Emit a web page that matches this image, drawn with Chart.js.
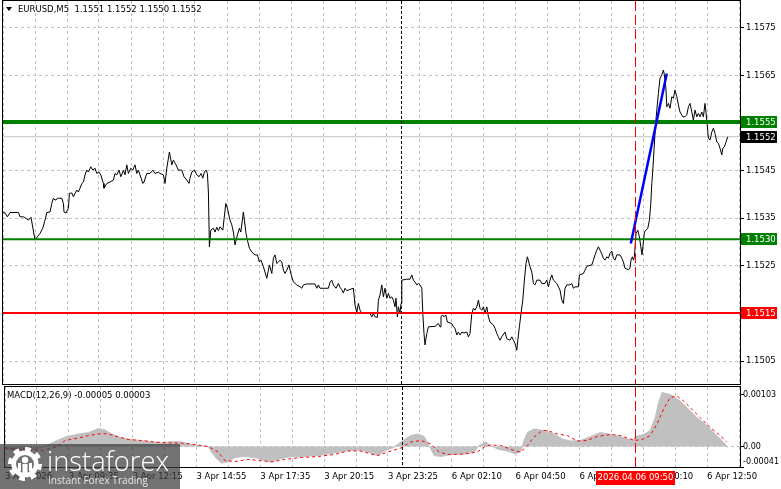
<!DOCTYPE html>
<html>
<head>
<meta charset="utf-8">
<script src="https://cdn.jsdelivr.net/npm/chart.js@4.4.0/dist/chart.umd.min.js"></script>
<style>
  html, body { margin: 0; padding: 0; background: #fff; }
  #wrap { position: relative; width: 781px; height: 489px; overflow: hidden; }
  #priceCanvas { position: absolute; left: 0; top: 0; }
  #macdCanvas { position: absolute; left: 0; top: 386px; }
</style>
</head>
<body>
<div id="wrap">
  <canvas id="priceCanvas" width="781" height="386"></canvas>
  <canvas id="macdCanvas" width="781" height="103"></canvas>
</div>
<script>
// EURUSD M5 close line, bar index (5 min bars from the left edge) and price
const priceBars = [
  0, 1, 2.2, 3.5, 7.7, 8.5, 10.2, 11, 12.7, 14,
  16, 17.2, 18.5, 19.9, 21, 21.9, 23.5, 24.4, 25.2, 26,
  27.7, 29.4, 30.2, 30.5, 31.5, 32.7, 33.2, 34.4, 35.2, 36,
  36.9, 37.7, 38.5, 39.4, 40.2, 41, 41.9, 42.7, 43.9, 44.9,
  46, 46.9, 48, 48.9, 50.2, 50.5, 51.9, 53.5, 55.2, 56,
  56.9, 58, 58.9, 60.2, 61, 61.9, 62.7, 63.9, 64.9, 66,
  66.9, 67.7, 68.5, 69.9, 70.5, 71.9, 73.5, 74.9, 76, 77.7,
  78.5, 80.2, 81, 81.9, 83.2, 84.4, 85.2, 86.5, 87.7, 89.4,
  90.5, 91.9, 93, 93.5, 94.4, 95.7, 96.9, 98, 99, 99.9,
  100.7, 101.5, 102.2, 102.7, 103.2, 103.9, 105.2, 106, 106.9, 107.7,
  108.5, 109.9, 111.4, 112.2, 113.5, 114.4, 115.2, 116, 117.2, 118.2,
  118.9, 120.2, 120.7, 121.5, 122.2, 123.2, 124.4, 126, 127.2, 128.2,
  129, 130.2, 131.9, 132.7, 133.2, 134.4, 135.2, 136, 136.9, 137.7,
  138.5, 139.4, 140.2, 141, 141.9, 143, 143.9, 145.2, 146.9, 148.5,
  149.4, 150.2, 151.9, 156, 156.9, 157.7, 158.5, 162.7, 163.5, 164.4,
  165.2, 166.5, 167.7, 168.5, 169.4, 170.2, 171, 171.9, 173.2, 175.2,
  176, 176.9, 177.7, 178.5, 179.4, 181, 183.5, 184.4, 185.2, 186,
  187.2, 187.7, 188.5, 189.4, 190.2, 191, 191.9, 192.7, 193.5, 194.4,
  195.2, 196, 196.5, 197.2, 197.7, 198.5, 199, 199.4, 201.9, 203.5,
  204.4, 205.2, 206, 206.9, 207.7, 208.5, 209.4, 209.9, 210.5, 211,
  211.9, 212.7, 216, 217.7, 218.5, 219, 219.7, 220.5, 221.4, 222.2,
  224.4, 225.2, 226, 226.9, 227.7, 228.5, 229.4, 230.5, 231.9, 232.7,
  233.5, 234.4, 235.2, 236, 236.9, 237.7, 238.5, 239.4, 240.2, 241,
  241.9, 242.7, 243.5, 245.2, 246, 246.9, 247.7, 248.5, 249.4, 251,
  251.9, 253.5, 254.4, 255.2, 256, 256.9, 257.4, 258.2, 259, 259.9,
  260.7, 261.5, 262.2, 262.9, 263.5, 264.4, 265.2, 266, 266.9, 268.5,
  269.4, 271, 271.9, 272.7, 273.5, 274.4, 275.2, 276.9, 278.5, 279.4,
  280.2, 281, 281.9, 283.5, 284.4, 285.2, 286, 287.7, 288.2, 290.2,
  291, 291.9, 294.4, 295.2, 296, 296.9, 297.7, 298.5, 299.4, 300.2,
  301, 301.9, 302.7, 303.5, 304.4, 305.2, 306, 306.9, 308.5, 309.4,
  310.2, 311, 312.7, 313.5, 314, 314.7, 315.2, 315.7, 316.5, 317.4,
  318.2, 318.9, 319.5, 320.2, 320.7, 321.5, 322.4, 323.2, 323.9, 324.4,
  324.9, 325.5, 326.2, 326.9, 327.7, 328.5, 329.4, 330.2, 330.7, 331.4,
  331.9, 332.7, 333.5, 334.4, 335.2, 336, 336.9, 337.7, 338.5, 339.9,
  341, 341.9, 342.7, 343.5, 344.4, 345.2, 346, 346.9, 347.7, 348.5,
  349.4, 350.2, 351, 351.9, 352.7, 353.5, 354.4, 355.2, 356, 356.9,
  357.7, 358.5, 359.4, 359.9, 360.7, 361.5, 362.4
]
const priceClose = [
  1.15363, 1.15361, 1.15353, 1.15362, 1.15362, 1.15353, 1.15353, 1.15351, 1.15346, 1.15352,
  1.15304, 1.15311, 1.15318, 1.15329, 1.15346, 1.15362, 1.15363, 1.15381, 1.15392, 1.15388,
  1.15392, 1.15392, 1.15381, 1.15363, 1.15361, 1.15371, 1.15402, 1.15403, 1.15395, 1.15402,
  1.15409, 1.15405, 1.15413, 1.15423, 1.15426, 1.15441, 1.15451, 1.15447, 1.15458, 1.15451,
  1.15455, 1.15444, 1.15447, 1.15441, 1.15423, 1.15413, 1.15423, 1.15426, 1.15430, 1.15444,
  1.15441, 1.15451, 1.15437, 1.15451, 1.15441, 1.15462, 1.15444, 1.15455, 1.15451, 1.15462,
  1.15444, 1.15451, 1.15441, 1.15423, 1.15426, 1.15444, 1.15444, 1.15451, 1.15444, 1.15447,
  1.15444, 1.15441, 1.15423, 1.15455, 1.15489, 1.15462, 1.15472, 1.15462, 1.15451, 1.15451,
  1.15437, 1.15430, 1.15423, 1.15434, 1.15447, 1.15451, 1.15441, 1.15437, 1.15444, 1.15434,
  1.15447, 1.15451, 1.15444, 1.15405, 1.15290, 1.15325, 1.15329, 1.15321, 1.15331, 1.15324,
  1.15332, 1.15325, 1.15381, 1.15371, 1.15346, 1.15336, 1.15321, 1.15294, 1.15315, 1.15329,
  1.15321, 1.15363, 1.15346, 1.15318, 1.15304, 1.15287, 1.15279, 1.15273, 1.15273, 1.15258,
  1.15262, 1.15248, 1.15224, 1.15241, 1.15252, 1.15234, 1.15266, 1.15273, 1.15255, 1.15258,
  1.15262, 1.15258, 1.15241, 1.15234, 1.15241, 1.15252, 1.15234, 1.15216, 1.15210, 1.15206,
  1.15203, 1.15210, 1.15212, 1.15212, 1.15203, 1.15210, 1.15203, 1.15203, 1.15216, 1.15220,
  1.15210, 1.15203, 1.15213, 1.15205, 1.15200, 1.15193, 1.15203, 1.15198, 1.15200, 1.15203,
  1.15168, 1.15153, 1.15171, 1.15157, 1.15151, 1.15151, 1.15150, 1.15143, 1.15150, 1.15143,
  1.15142, 1.15178, 1.15189, 1.15210, 1.15185, 1.15203, 1.15182, 1.15192, 1.15182, 1.15185,
  1.15178, 1.15164, 1.15182, 1.15143, 1.15164, 1.15150, 1.15171, 1.15220, 1.15222, 1.15222,
  1.15231, 1.15220, 1.15216, 1.15210, 1.15213, 1.15210, 1.15203, 1.15150, 1.15108, 1.15084,
  1.15108, 1.15122, 1.15123, 1.15129, 1.15122, 1.15143, 1.15147, 1.15143, 1.15147, 1.15132,
  1.15129, 1.15122, 1.15119, 1.15105, 1.15111, 1.15105, 1.15111, 1.15109, 1.15111, 1.15101,
  1.15108, 1.15150, 1.15161, 1.15157, 1.15164, 1.15178, 1.15161, 1.15157, 1.15164, 1.15150,
  1.15164, 1.15143, 1.15132, 1.15126, 1.15119, 1.15108, 1.15101, 1.15094, 1.15101, 1.15111,
  1.15097, 1.15094, 1.15101, 1.15094, 1.15087, 1.15073, 1.15094, 1.15122, 1.15150, 1.15178,
  1.15220, 1.15255, 1.15269, 1.15258, 1.15248, 1.15237, 1.15213, 1.15210, 1.15220, 1.15220,
  1.15213, 1.15213, 1.15220, 1.15206, 1.15220, 1.15231, 1.15220, 1.15213, 1.15199, 1.15178,
  1.15171, 1.15203, 1.15210, 1.15210, 1.15213, 1.15203, 1.15206, 1.15206, 1.15231, 1.15234,
  1.15241, 1.15249, 1.15252, 1.15262, 1.15273, 1.15283, 1.15290, 1.15283, 1.15275, 1.15266,
  1.15262, 1.15269, 1.15266, 1.15276, 1.15281, 1.15266, 1.15262, 1.15273, 1.15273, 1.15266,
  1.15258, 1.15245, 1.15242, 1.15245, 1.15262, 1.15269, 1.15262, 1.15269, 1.15318, 1.15325,
  1.15311, 1.15290, 1.15273, 1.15300, 1.15321, 1.15325, 1.15329, 1.15346, 1.15381, 1.15423,
  1.15451, 1.15493, 1.15542, 1.15577, 1.15612, 1.15644, 1.15651, 1.15661, 1.15651, 1.15626,
  1.15584, 1.15591, 1.15581, 1.15605, 1.15602, 1.15619, 1.15605, 1.15588, 1.15573, 1.15563,
  1.15563, 1.15567, 1.15584, 1.15591, 1.15573, 1.15556, 1.15577, 1.15563, 1.15570, 1.15563,
  1.15573, 1.15563, 1.15591, 1.15556, 1.15518, 1.15514, 1.15531, 1.15539, 1.15528, 1.15510,
  1.15507, 1.15497, 1.15483, 1.15497, 1.15500, 1.15510, 1.15521
]

// MACD(12,26,9): histogram and signal
const macdBars = [
  0, 10, 19, 24.4, 30.2, 36.9, 41.9, 46.9, 50.2, 53.5,
  58.5, 65.2, 71.9, 78.5, 83.5, 88.5, 93.5, 98.5, 101.9, 103.5,
  106, 108.5, 111.9, 115.2, 120.2, 125.2, 130.2, 133.5, 136.9, 141.9,
  148.5, 156.9, 165.2, 171.9, 178.5, 183.5, 186.9, 190.2, 195.2, 198.5,
  203.5, 206.9, 210.2, 213.5, 215.2, 218.5, 223.5, 230.2, 235.2, 237.7,
  241, 243.5, 246.9, 251.9, 256, 258.5, 260.2, 261.9, 265.2, 270.2,
  275.2, 279.4, 283.5, 288.5, 293.5, 298.5, 303.5, 308.5, 311.9, 315.2,
  316, 320.2, 323.5, 326, 327.7, 329.4, 333.5, 338.5, 341.9, 346.9,
  351.9, 356.9, 360.2, 362.4
]
const macdHist = [
  -0.00006, -0.00009, -0.00002, 0.00009, 0.00019, 0.00025, 0.00028, 0.00036, 0.00033, 0.00025,
  0.00017, 0.00013, 0.00010, 0.00007, 0.00010, 0.00009, 0.00004, 0.00001, 0.00000, -0.00011,
  -0.00024, -0.00033, -0.00031, -0.00022, -0.00020, -0.00022, -0.00028, -0.00031, -0.00026, -0.00021,
  -0.00020, -0.00018, -0.00013, -0.00008, -0.00007, -0.00013, -0.00018, -0.00009, -0.00001, 0.00009,
  0.00022, 0.00025, 0.00020, -0.00005, -0.00018, -0.00020, -0.00016, -0.00015, -0.00011, 0.00002,
  0.00009, 0.00002, -0.00005, -0.00009, -0.00015, -0.00011, 0.00012, 0.00028, 0.00035, 0.00032,
  0.00025, 0.00015, 0.00011, 0.00012, 0.00020, 0.00028, 0.00024, 0.00020, 0.00015, 0.00013,
  0.00020, 0.00024, 0.00032, 0.00058, 0.00088, 0.00108, 0.00104, 0.00091, 0.00078, 0.00058,
  0.00042, 0.00022, 0.00009, -0.00002
]
const signalBars = [
  0, 18.5, 26, 30.2, 36.9, 41.9, 48.5, 51.9, 56.9, 61.9,
  68.5, 75.2, 81.9, 88.5, 95.2, 101.9, 106.9, 110.2, 115.2, 121.9,
  128.5, 133.5, 140.2, 148.5, 156.9, 165.2, 171.9, 178.5, 183.5, 186.9,
  191.9, 198.5, 203.5, 208.5, 213.5, 217.7, 221.9, 230.2, 236.9, 240.2,
  243.5, 248.5, 255.2, 258.5, 261.9, 265.2, 269.4, 271.9, 276.9, 281.9,
  286.9, 291.9, 296.9, 303.5, 308.5, 311.9, 316, 320.2, 323.5, 326.9,
  330.2, 333.5, 336.9, 340.2, 343.5, 348.5, 353.5, 357.7, 361.9
]
const signalValues = [
  -0.00003, -0.00008, -0.00001, 0.00012, 0.00017, 0.00022, 0.00026, 0.00025, 0.00019, 0.00014,
  0.00012, 0.00009, 0.00007, 0.00007, 0.00004, 0.00000, -0.00011, -0.00028, -0.00030, -0.00026,
  -0.00028, -0.00031, -0.00026, -0.00022, -0.00020, -0.00016, -0.00009, -0.00009, -0.00015, -0.00018,
  -0.00011, -0.00003, 0.00009, 0.00012, 0.00005, -0.00011, -0.00016, -0.00015, -0.00011, -0.00001,
  0.00003, 0.00002, -0.00008, -0.00011, 0.00002, 0.00019, 0.00032, 0.00032, 0.00025, 0.00022,
  0.00011, 0.00012, 0.00020, 0.00024, 0.00022, 0.00017, 0.00012, 0.00015, 0.00022, 0.00045,
  0.00075, 0.00098, 0.00101, 0.00091, 0.00078, 0.00058, 0.00038, 0.00025, 0.00009
]

// levels drawn by the analyst, and the trend stroke
const levelValues = [1.15552, 1.15306, 1.15151]
const levelLabels = ["1.1555", "1.1530", "1.1515"]
const trendBars = [313.9, 331.9]
const trendPrices = [1.15297, 1.15654]

// axes
const priceTicks = [1.1505, 1.1515, 1.1525, 1.1535, 1.1545, 1.1555, 1.1565, 1.1575]
const macdTicks = [0.00103, 0, -0.00041]
const macdTickLabels = ["0.00103", "0.00", "-0.00041"]
const tickBars = [0, 32, 64, 96, 128, 160, 192, 224, 256, 288, 320, 352]
const tickLabels = ["3 Apr 2026", "3 Apr 09:35", "3 Apr 12:15", "3 Apr 14:55", "3 Apr 17:35", "3 Apr 20:15",
  "3 Apr 23:25", "6 Apr 02:10", "6 Apr 04:50", "6 Apr 07:30", "6 Apr 10:10", "6 Apr 12:50"]
const separatorBar = 199
const eventBar = 316
const eventLabel = "2026.04.06 09:50"
const headerText = "EURUSD,M5  1.1551 1.1552 1.1550 1.1552"
const macdHeader = "MACD(12,26,9) -0.00005 0.00003"

const X_MAX = 368.5
const GRID = "#c0c0c0"
const FONT = "'DejaVu Sans', Verdana, sans-serif"
const FONT_PX = 8.5
Chart.defaults.font.family = FONT
Chart.defaults.font.size = FONT_PX
Chart.defaults.color = "#000"

const gridBars = []
for (let b = 0; b <= X_MAX; b += 16) gridBars.push(b)

const toPoints = (xs, ys) => xs.map((x, i) => ({ x: x, y: ys[i] }))
const lastClose = priceClose[priceClose.length - 1]

function xAxis(showLabels, height) {
  return {
    type: "linear",
    min: 0,
    max: X_MAX,
    border: { display: false, dash: [3, 3] },
    grid: { color: GRID, drawTicks: false },
    ticks: {
      display: showLabels,
      autoSkip: false,
      maxRotation: 0,
      align: "start",
      padding: 5,
      callback: (v) => {
        const i = tickBars.indexOf(v)
        return i >= 0 ? tickLabels[i] : ""
      },
    },
    afterBuildTicks: (s) => { s.ticks = gridBars.map((v) => ({ value: v })) },
    afterFit: (s) => { s.height = height },
  }
}

// vertical markers on both panels
const markers = {
  id: "markers",
  afterDatasetsDraw(chart) {
    const { ctx, chartArea: a, scales } = chart
    ctx.save()
    ctx.lineWidth = 1
    let px = Math.round(scales.x.getPixelForValue(separatorBar)) + 0.5
    ctx.strokeStyle = "#000"
    ctx.setLineDash([3, 2])
    ctx.beginPath(); ctx.moveTo(px, a.top); ctx.lineTo(px, a.bottom); ctx.stroke()
    px = Math.round(scales.x.getPixelForValue(eventBar)) + 0.5
    ctx.strokeStyle = "#ff0000"
    ctx.setLineDash([10, 4])
    ctx.beginPath(); ctx.moveTo(px, a.top); ctx.lineTo(px, a.bottom); ctx.stroke()
    ctx.restore()
  },
}

function frame(ctx, a) {
  ctx.save()
  ctx.strokeStyle = "#000"
  ctx.lineWidth = 1
  ctx.strokeRect(a.left - 0.5, a.top - 0.5, a.right - a.left + 1, a.bottom - a.top + 1)
  ctx.restore()
}

function priceBox(ctx, y, fill, text) {
  ctx.fillStyle = fill
  ctx.fillRect(741, Math.round(y) - 6, 36, 12)
  ctx.fillStyle = "#fff"
  ctx.textBaseline = "middle"
  ctx.textAlign = "left"
  ctx.fillText(text, 746, Math.round(y) + 0.5)
}

const priceDecor = {
  id: "priceDecor",
  afterDraw(chart) {
    const { ctx, chartArea: a, scales } = chart
    frame(ctx, a)
    ctx.save()
    ctx.font = FONT_PX + "px " + FONT
    const colors = ["#008000", "#008000", "#ff0000"]
    levelValues.forEach((v, i) => priceBox(ctx, scales.y.getPixelForValue(v), colors[i], levelLabels[i]))
    priceBox(ctx, scales.y.getPixelForValue(lastClose), "#000", lastClose.toFixed(4))
    // header
    ctx.fillStyle = "#000"
    ctx.beginPath(); ctx.moveTo(6, 7); ctx.lineTo(12, 7); ctx.lineTo(9, 11); ctx.closePath(); ctx.fill()
    ctx.textBaseline = "middle"
    ctx.fillText(headerText, 18, 10)
    ctx.restore()
  },
}

function drawLogo(ctx, top) {
  ctx.save()
  ctx.fillStyle = "rgba(60,60,60,0.72)"
  ctx.fillRect(0, top, 180, 45)
  // gear
  const cx = 25, cy = top + 20, r = 17
  ctx.fillStyle = "#fff"
  ctx.beginPath()
  const n = 16
  for (let i = 0; i < n; i++) {
    const a0 = (i / n) * Math.PI * 2 - Math.PI / 2
    const a1 = ((i + 1) / n) * Math.PI * 2 - Math.PI / 2
    ctx.arc(cx, cy, i % 2 === 0 ? r : r * 0.8, a0, a1)
  }
  ctx.closePath()
  ctx.fill()
  ctx.fillStyle = "#727272"
  ctx.beginPath(); ctx.arc(cx, cy, 9, 0, Math.PI * 2); ctx.fill()
  ctx.fillStyle = "#fff"
  ctx.beginPath(); ctx.arc(cx, cy - 4, 3.2, 0, Math.PI * 2); ctx.fill()
  ctx.fillRect(cx - 2.5, cy, 5, 12)
  ctx.fillRect(cx - 7, cy - 1, 3, 8)
  ctx.fillRect(cx + 4, cy - 1, 3, 8)
  // words
  ctx.textBaseline = "alphabetic"
  ctx.font = "300 27px 'Open Sans', sans-serif"
  let w = ctx.measureText("instaforex").width
  ctx.save(); ctx.translate(47, top + 27); ctx.scale(122 / w, 1); ctx.fillText("instaforex", 0, 0); ctx.restore()
  ctx.fillStyle = "#e6e6e6"
  ctx.font = "11px 'Open Sans', sans-serif"
  w = ctx.measureText("Instant Forex Trading").width
  ctx.save(); ctx.translate(48, top + 40); ctx.scale(100 / w, 1); ctx.fillText("Instant Forex Trading", 0, 0); ctx.restore()
  ctx.restore()
}

const macdDecor = {
  id: "macdDecor",
  afterDraw(chart) {
    const { ctx, chartArea: a, scales } = chart
    frame(ctx, a)
    ctx.save()
    ctx.font = FONT_PX + "px " + FONT
    ctx.fillStyle = "#000"
    ctx.textBaseline = "middle"
    ctx.fillText(macdHeader, 7, 10)
    ctx.font = "8px " + FONT
    macdTicks.forEach((v, i) => {
      const y = Math.min(scales.y.getPixelForValue(v), a.bottom - 5)
      ctx.fillText(macdTickLabels[i], 743, y)
    })
    // date label of the event line
    ctx.font = FONT_PX + "px " + FONT
    const ex = scales.x.getPixelForValue(eventBar)
    ctx.fillStyle = "#ff0000"
    ctx.fillRect(Math.round(ex) - 39, a.bottom + 4, 79, 14)
    ctx.fillStyle = "#fff"
    ctx.textAlign = "center"
    ctx.fillText(eventLabel, Math.round(ex) + 0.5, a.bottom + 11)
    ctx.restore()
    drawLogo(ctx, 58)
  },
}

new Chart(document.getElementById("priceCanvas"), {
  type: "line",
  data: {
    datasets: [
      { data: toPoints(trendBars, trendPrices), borderColor: "#0000ff", borderWidth: 2.5, order: 0 },
      { data: toPoints([0, X_MAX], [levelValues[0], levelValues[0]]), borderColor: "#008000", borderWidth: 4, order: 1 },
      { data: toPoints([0, X_MAX], [levelValues[1], levelValues[1]]), borderColor: "#008000", borderWidth: 2, order: 1 },
      { data: toPoints([0, X_MAX], [levelValues[2], levelValues[2]]), borderColor: "#ff0000", borderWidth: 2, order: 1 },
      { data: toPoints(priceBars, priceClose), borderColor: "#000", borderWidth: 1, order: 2 },
      { data: toPoints([0, X_MAX], [lastClose, lastClose]), borderColor: GRID, borderWidth: 1, order: 3 },
    ],
  },
  options: {
    responsive: false,
    animation: false,
    layout: { padding: { left: 3, top: 1, right: 0, bottom: 2 } },
    elements: { point: { radius: 0 }, line: { tension: 0, fill: false } },
    plugins: { legend: { display: false }, tooltip: { enabled: false } },
    scales: {
      x: xAxis(false, 0),
      y: {
        position: "right",
        min: 1.15002,
        max: 1.15806,
        border: { display: false, dash: [3, 3] },
        grid: { color: GRID, tickColor: "#000", tickBorderDash: [], tickLength: 4 },
        ticks: { padding: 2, autoSkip: false, callback: (v) => v.toFixed(4) },
        afterBuildTicks: (s) => { s.ticks = priceTicks.map((v) => ({ value: v })) },
        afterFit: (s) => {
          s.width = 41
          s.paddingTop = 0
          s.paddingBottom = 0
        },
      },
    },
  },
  plugins: [markers, priceDecor],
})

new Chart(document.getElementById("macdCanvas"), {
  type: "line",
  data: {
    datasets: [
      { data: toPoints(signalBars, signalValues), borderColor: "#ff0000", borderWidth: 1, borderDash: [3, 3], order: 0 },
      { data: toPoints(macdBars, macdHist), borderColor: GRID, backgroundColor: GRID, borderWidth: 1, fill: "origin", order: 1 },
    ],
  },
  options: {
    responsive: false,
    animation: false,
    layout: { padding: { left: 3, top: 1, right: 0, bottom: 0 } },
    elements: { point: { radius: 0 }, line: { tension: 0 } },
    plugins: { legend: { display: false }, tooltip: { enabled: false } },
    scales: {
      x: xAxis(true, 22),
      y: {
        position: "right",
        min: -0.00041,
        max: 0.00119,
        border: { display: false, dash: [3, 3] },
        grid: {
          color: (c) => (c.tick && c.tick.value === 0 ? GRID : "rgba(0,0,0,0)"),
          tickColor: "#000",
          tickBorderDash: [],
          tickLength: 4,
        },
        ticks: { display: false },
        afterBuildTicks: (s) => { s.ticks = macdTicks.map((v) => ({ value: v })) },
        afterFit: (s) => {
          s.width = 41
          s.paddingTop = 0
          s.paddingBottom = 0
        },
      },
    },
  },
  plugins: [markers, macdDecor],
})
</script>
</body>
</html>
